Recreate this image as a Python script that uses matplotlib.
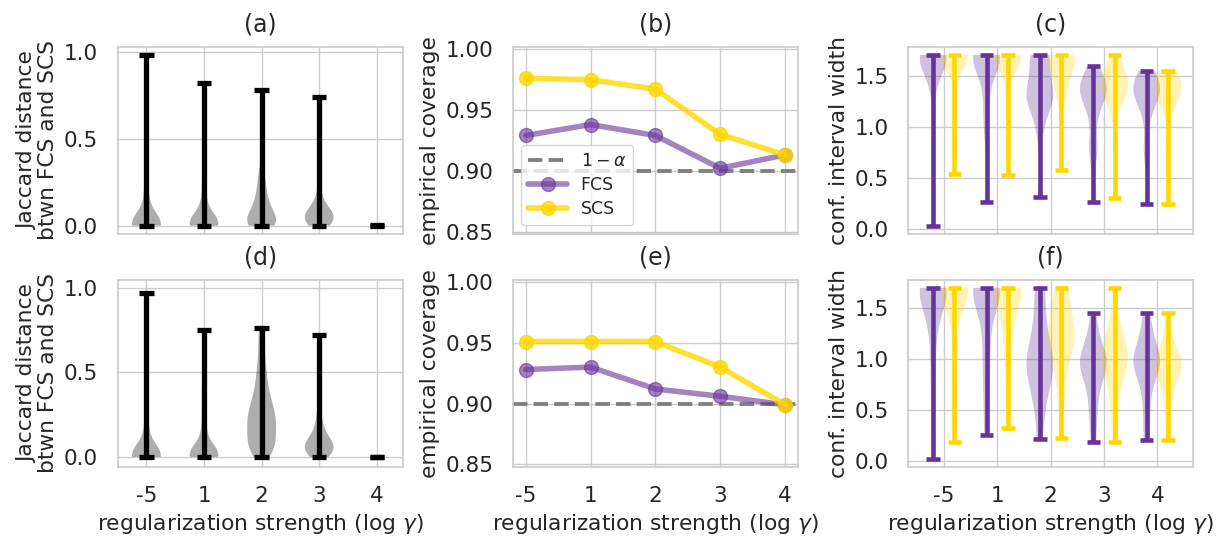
import matplotlib
matplotlib.use('Agg')
import matplotlib.pyplot as plt
import seaborn as sns

# --- data ---
TICK_LABELS = ['-5', '1', '2', '3', '4']

# (b) / (e) empirical coverage
cov_fcs_top = [0.929, 0.938, 0.929, 0.902, 0.913]
cov_scs_top = [0.976, 0.975, 0.967, 0.930, 0.913]
cov_fcs_bot = [0.928, 0.930, 0.912, 0.906, 0.899]
cov_scs_bot = [0.951, 0.951, 0.951, 0.930, 0.899]
TARGET = 0.90

# (a) jaccard distance samples per log-gamma
jac_top = [
    [0, 0, 0, 0, 0, 0, 0, 0, 0, 0, 0, 0, 0, 0.01, 0.01, 0.02, 0.03, 0.05, 0.08, 0.12, 0.17, 0.22,
     0.28, 0.34, 0.42, 0.98],
    [0, 0, 0, 0, 0, 0, 0, 0, 0, 0, 0, 0.01, 0.01, 0.02, 0.03, 0.04, 0.06, 0.09, 0.13, 0.18, 0.24,
     0.3, 0.37, 0.45, 0.82],
    [0, 0, 0, 0, 0.01, 0.02, 0.03, 0.04, 0.05, 0.06, 0.08, 0.10, 0.12, 0.15, 0.18, 0.22, 0.26, 0.32, 0.78],
    [0, 0, 0.01, 0.02, 0.03, 0.04, 0.04, 0.05, 0.05, 0.06, 0.06, 0.07, 0.08, 0.09, 0.11, 0.14, 0.2, 0.28, 0.74],
    [0, 0, 0, 0, 0, 0, 0.001],
]
# (d)
jac_bot = [
    [0, 0, 0, 0, 0, 0, 0, 0, 0, 0, 0, 0, 0, 0.01, 0.01, 0.02, 0.03, 0.05, 0.08, 0.12, 0.17, 0.23,
     0.29, 0.36, 0.45, 0.97],
    [0, 0, 0, 0, 0, 0, 0, 0, 0, 0, 0.01, 0.01, 0.02, 0.03, 0.04, 0.06, 0.09, 0.13, 0.18, 0.24,
     0.3, 0.36, 0.42, 0.48, 0.75],
    [0, 0.015, 0.03, 0.045, 0.06, 0.075, 0.09, 0.105, 0.12, 0.135, 0.15, 0.165, 0.18,
     0.195, 0.21, 0.225, 0.24, 0.255, 0.27, 0.285, 0.30, 0.32, 0.345, 0.37, 0.40, 0.43, 0.47, 0.51,
     0.56, 0.62, 0.69, 0.76],
    [0, 0.01, 0.02, 0.03, 0.04, 0.05, 0.05, 0.06, 0.06, 0.07, 0.08, 0.09, 0.10, 0.12, 0.14, 0.17, 0.21, 0.27, 0.35, 0.72],
    [0, 0, 0, 0, 0, 0, 0.001],
]

# (c) interval widths, FCS and SCS
width_fcs_top = [
    [0.03, 0.9, 1.3, 1.5, 1.6, 1.65, 1.68, 1.69, 1.70, 1.70, 1.70, 1.70, 1.71, 1.71, 1.71, 1.71, 1.71, 1.71],
    [0.27, 0.9, 1.1, 1.2, 1.4, 1.55, 1.62, 1.66, 1.69, 1.70, 1.70, 1.71, 1.71, 1.71, 1.71, 1.71],
    [0.32, 0.9, 1.05, 1.15, 1.2, 1.25, 1.28, 1.3, 1.32, 1.35, 1.38, 1.42, 1.48, 1.55, 1.65, 1.70, 1.71, 1.71, 1.71],
    [0.27, 0.7, 0.8, 0.85, 1.1, 1.2, 1.28, 1.32, 1.35, 1.37, 1.38, 1.40, 1.42, 1.45, 1.50, 1.60],
    [0.25, 0.75, 0.8, 1.1, 1.2, 1.28, 1.32, 1.35, 1.37, 1.38, 1.40, 1.42, 1.45, 1.50, 1.55],
]
width_scs_top = [
    [0.54, 1.4, 1.6, 1.66, 1.69, 1.70, 1.70, 1.71, 1.71, 1.71, 1.71, 1.71, 1.71, 1.71],
    [0.53, 1.3, 1.55, 1.65, 1.68, 1.70, 1.70, 1.71, 1.71, 1.71, 1.71, 1.71, 1.71],
    [0.58, 1.2, 1.3, 1.4, 1.45, 1.5, 1.55, 1.6, 1.65, 1.68, 1.70, 1.71, 1.71, 1.71, 1.71],
    [0.31, 0.8, 1.2, 1.3, 1.35, 1.38, 1.40, 1.42, 1.45, 1.48, 1.52, 1.58, 1.71],
    [0.25, 0.8, 1.2, 1.3, 1.35, 1.37, 1.38, 1.40, 1.42, 1.45, 1.50, 1.55],
]
# (f)
width_fcs_bot = [
    [0.02, 0.5, 0.8, 1.1, 1.3, 1.5, 1.6, 1.65, 1.68, 1.70, 1.70, 1.70, 1.70, 1.70, 1.70],
    [0.25, 0.55, 0.8, 1.0, 1.2, 1.4, 1.55, 1.65, 1.68, 1.70, 1.70, 1.70, 1.70, 1.70],
    [0.21, 0.45, 0.6, 0.7, 0.78, 0.85, 0.9, 0.95, 1.0, 1.05, 1.12, 1.2, 1.3, 1.45, 1.6, 1.70],
    [0.18, 0.4, 0.55, 0.7, 0.8, 0.87, 0.92, 0.95, 0.98, 1.02, 1.08, 1.15, 1.25, 1.45],
    [0.20, 0.4, 0.6, 0.75, 0.85, 0.9, 0.95, 0.98, 1.0, 1.05, 1.1, 1.2, 1.3, 1.45],
]
width_scs_bot = [
    [0.18, 0.8, 1.2, 1.5, 1.6, 1.65, 1.68, 1.70, 1.70, 1.70, 1.70, 1.70, 1.70],
    [0.32, 0.9, 1.1, 1.25, 1.4, 1.5, 1.58, 1.64, 1.68, 1.70, 1.70, 1.70, 1.70],
    [0.22, 0.6, 0.8, 0.95, 1.05, 1.12, 1.18, 1.22, 1.26, 1.3, 1.38, 1.45, 1.55, 1.65, 1.70],
    [0.18, 0.45, 0.65, 0.8, 0.9, 0.97, 1.0, 1.03, 1.08, 1.15, 1.25, 1.4, 1.70],
    [0.20, 0.45, 0.65, 0.78, 0.86, 0.9, 0.93, 0.95, 0.98, 1.02, 1.1, 1.25, 1.45],
]

PURPLE = '#663399'
GOLD = '#FFD700'

sns.set_theme(style='whitegrid')
plt.rcParams['font.family'] = ['DejaVu Sans']
plt.rcParams['mathtext.fontset'] = 'dejavusans'
TICK_FS = 15.5
LABEL_FS = 15.7
TITLE_FS = 17


def style_violin(parts, color, body_alpha, line_color, lw):
    for b in parts['bodies']:
        b.set_facecolor(color)
        b.set_edgecolor('none')
        b.set_alpha(body_alpha)
    for key in ('cmins', 'cmaxes', 'cbars'):
        parts[key].set_color(line_color)
        parts[key].set_linewidth(lw)


def jaccard_panel(ax, data, ylim):
    pos = list(range(1, len(data) + 1))
    parts = ax.violinplot(data, positions=pos, widths=0.5, bw_method=0.3)
    style_violin(parts, 'black', 0.32, 'black', 3.8)
    ax.set_xticks(pos)
    ax.set_xlim(0.5, 5.45)
    ax.set_ylim(*ylim)
    ax.set_yticks([0.0, 0.5, 1.0])
    ax.set_ylabel('Jaccard distance\nbtwn FCS and SCS', fontsize=LABEL_FS, linespacing=1.05)


def coverage_panel(ax, fcs, scs):
    x = list(range(len(fcs)))
    ax.axhline(TARGET, color='gray', ls='--', lw=2.8, label=r'$1-\alpha$', zorder=2)
    ax.plot(x, fcs, '-o', color=PURPLE, alpha=0.6, lw=4, ms=10, label='FCS', zorder=3)
    ax.plot(x, scs, '-o', color=GOLD, alpha=0.8, lw=4, ms=10, label='SCS', zorder=3)
    ax.set_xticks(x)
    ax.set_xlim(-0.2, 4.2)
    ax.set_ylim(0.848, 1.002)
    ax.set_yticks([0.85, 0.90, 0.95, 1.00])
    ax.set_ylabel('empirical coverage', fontsize=LABEL_FS)


def width_panel(ax, fcs, scs, ylim):
    x = list(range(len(fcs)))
    p1 = ax.violinplot(fcs, positions=[v - 0.2 for v in x], widths=0.5, bw_method=0.4)
    style_violin(p1, PURPLE, 0.3, PURPLE, 3.3)
    p2 = ax.violinplot(scs, positions=[v + 0.2 for v in x], widths=0.5, bw_method=0.4)
    style_violin(p2, GOLD, 0.3, GOLD, 3.3)
    ax.set_xticks(x)
    ax.set_xlim(-0.67, 4.67)
    ax.set_ylim(*ylim)
    ax.set_yticks([0.0, 0.5, 1.0, 1.5])
    ax.set_ylabel('conf. interval width', fontsize=LABEL_FS)


fig, axes = plt.subplots(2, 3, figsize=(12.25, 5.44), dpi=100)
fig.subplots_adjust(left=0.096, right=0.974, bottom=0.142, top=0.914, wspace=0.386, hspace=0.244)

jaccard_panel(axes[0, 0], jac_top, (-0.048, 1.03))
jaccard_panel(axes[1, 0], jac_bot, (-0.058, 1.047))
coverage_panel(axes[0, 1], cov_fcs_top, cov_scs_top)
coverage_panel(axes[1, 1], cov_fcs_bot, cov_scs_bot)
width_panel(axes[0, 2], width_fcs_top, width_scs_top, (-0.047, 1.789))
width_panel(axes[1, 2], width_fcs_bot, width_scs_bot, (-0.059, 1.78))

axes[0, 1].legend(loc='lower left', fontsize=12.5, handlelength=2.2,
                  borderpad=0.4, labelspacing=0.35, framealpha=0.8)

for i, ax in enumerate(axes.flat):
    ax.set_title('(' + 'abcdef'[i] + ')', fontsize=TITLE_FS, pad=11)
    ax.tick_params(labelsize=TICK_FS, pad=8)
    if i < 3:
        ax.set_xticklabels([])
    else:
        ax.set_xticklabels(TICK_LABELS)
        ax.set_xlabel(r'regularization strength (log $\gamma$)', fontsize=LABEL_FS)

plt.savefig('out.png', dpi=100)
